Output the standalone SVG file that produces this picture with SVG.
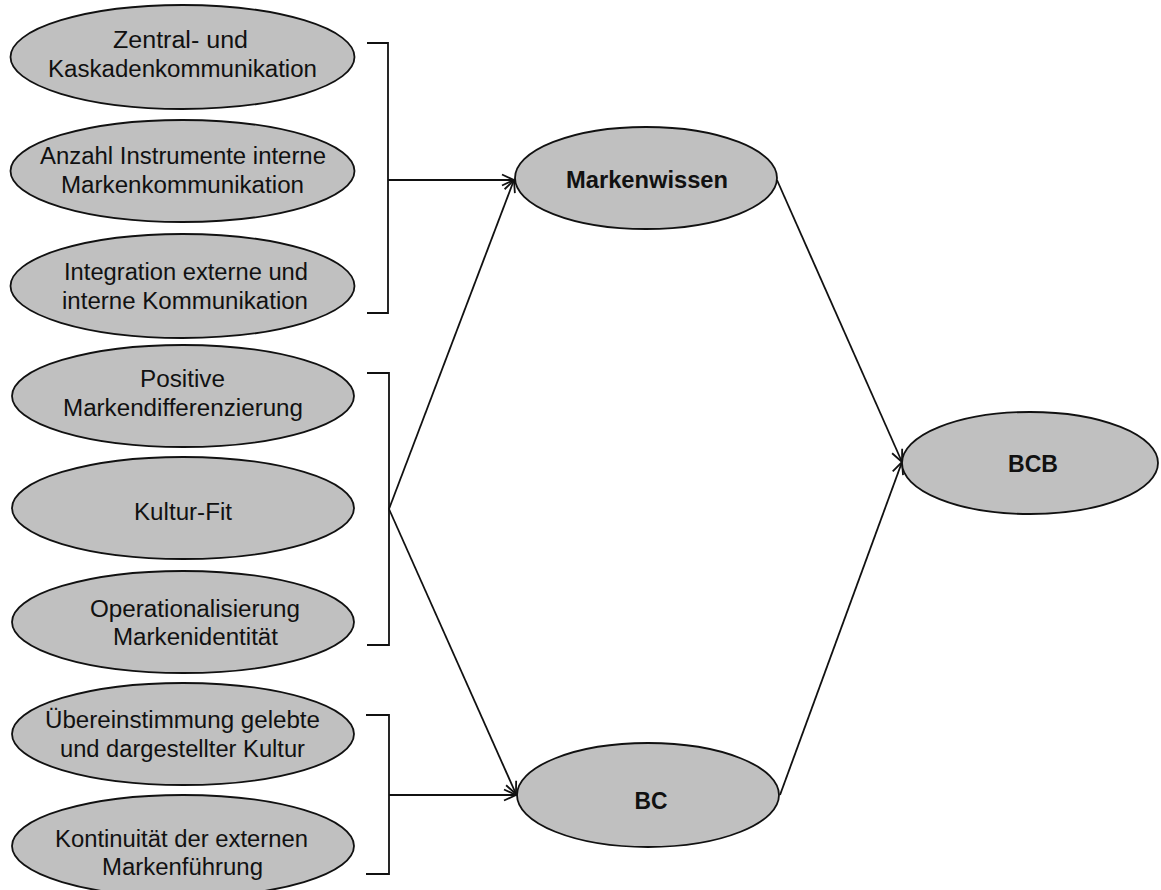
<svg xmlns="http://www.w3.org/2000/svg" width="1161" height="890" viewBox="0 0 1161 890">
<defs>
<style>
.node ellipse{fill:#c0c0c0;stroke:#111;stroke-width:1.8}
.node text{font-family:"Liberation Sans",Arial,sans-serif;font-size:23px;fill:#111;text-anchor:middle}
.node text.b{font-weight:bold}
.conn path{fill:none;stroke:#111;stroke-width:1.8}
</style>
<marker id="arr" markerUnits="userSpaceOnUse" markerWidth="16" markerHeight="14" refX="13" refY="7" orient="auto" viewBox="0 0 16 14">
<path d="M1,1.5 L13,7 L1,12.5" fill="none" stroke="#111" stroke-width="1.8"/>
</marker>
</defs>
<rect width="1161" height="890" fill="#ffffff"/>
<g id="connectors" class="conn">
<path d="M367,43 H388 V313 H367"/>
<path d="M388,180 H514" marker-end="url(#arr)"/>
<path d="M367,373 H389 V645 H367"/>
<path d="M389,509 L514,180" marker-end="url(#arr)"/>
<path d="M389,509 L516,794" marker-end="url(#arr)"/>
<path d="M366,715 H389 V874 H366"/>
<path d="M389,795 H516" marker-end="url(#arr)"/>
<path d="M777,180 L902,462" marker-end="url(#arr)"/>
<path d="M780,795 L902,462" marker-end="url(#arr)"/>
</g>
<g id="n1" class="node"><ellipse cx="182.5" cy="57" rx="172" ry="52"/>
<text x="180.5" y="48" textLength="135" lengthAdjust="spacingAndGlyphs">Zentral- und</text>
<text x="182.5" y="77" textLength="269" lengthAdjust="spacingAndGlyphs">Kaskadenkommunikation</text></g>
<g id="n2" class="node"><ellipse cx="182.5" cy="171" rx="172" ry="51"/>
<text x="183" y="164" textLength="286" lengthAdjust="spacingAndGlyphs">Anzahl Instrumente interne</text>
<text x="182.5" y="193" textLength="243" lengthAdjust="spacingAndGlyphs">Markenkommunikation</text></g>
<g id="n3" class="node"><ellipse cx="182.5" cy="286" rx="172" ry="52"/>
<text x="186" y="280" textLength="244" lengthAdjust="spacingAndGlyphs">Integration externe und</text>
<text x="185" y="309" textLength="246" lengthAdjust="spacingAndGlyphs">interne Kommunikation</text></g>
<g id="n4" class="node"><ellipse cx="183" cy="396" rx="171" ry="51"/>
<text x="182.5" y="387" textLength="85" lengthAdjust="spacingAndGlyphs">Positive</text>
<text x="183" y="416" textLength="240" lengthAdjust="spacingAndGlyphs">Markendifferenzierung</text></g>
<g id="n5" class="node"><ellipse cx="183" cy="508" rx="171" ry="51"/>
<text x="183" y="520" textLength="98" lengthAdjust="spacingAndGlyphs">Kultur-Fit</text></g>
<g id="n6" class="node"><ellipse cx="183" cy="622" rx="171" ry="51"/>
<text x="195" y="617" textLength="210" lengthAdjust="spacingAndGlyphs">Operationalisierung</text>
<text x="195.5" y="645" textLength="165" lengthAdjust="spacingAndGlyphs">Markenidentität</text></g>
<g id="n7" class="node"><ellipse cx="183" cy="734" rx="171" ry="51"/>
<text x="182.5" y="728" textLength="275" lengthAdjust="spacingAndGlyphs">Übereinstimmung gelebte</text>
<text x="182.5" y="757" textLength="245" lengthAdjust="spacingAndGlyphs">und dargestellter Kultur</text></g>
<g id="n8" class="node"><ellipse cx="183" cy="846" rx="171" ry="51"/>
<text x="181.5" y="847" textLength="253" lengthAdjust="spacingAndGlyphs">Kontinuität der externen</text>
<text x="182.5" y="875" textLength="161" lengthAdjust="spacingAndGlyphs">Markenführung</text></g>
<g id="markenwissen" class="node"><ellipse cx="646" cy="178" rx="131" ry="51"/>
<text class="b" x="647" y="188" textLength="162" lengthAdjust="spacingAndGlyphs">Markenwissen</text></g>
<g id="bc" class="node"><ellipse cx="648" cy="795" rx="131" ry="52"/>
<text class="b" x="651" y="809" textLength="33" lengthAdjust="spacingAndGlyphs">BC</text></g>
<g id="bcb" class="node"><ellipse cx="1030" cy="463" rx="128" ry="51"/>
<text class="b" x="1033" y="472" textLength="50" lengthAdjust="spacingAndGlyphs">BCB</text></g>
</svg>
